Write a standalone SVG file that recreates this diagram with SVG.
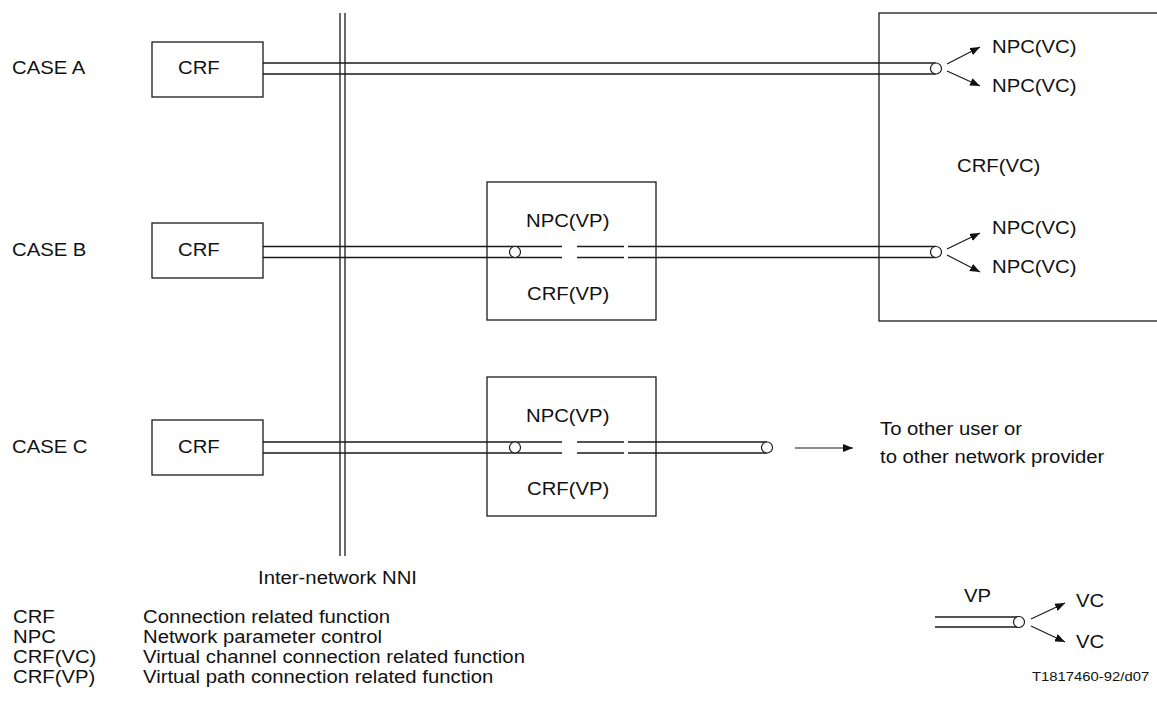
<svg xmlns="http://www.w3.org/2000/svg" width="1157" height="711" viewBox="0 0 1157 711">
<defs>
<style>
.t{font-family:"Liberation Sans",Arial,sans-serif;font-size:17.5px;fill:#111}
.s{font-family:"Liberation Sans",Arial,sans-serif;font-size:12.8px;fill:#111}
.ln{stroke:#1a1a1a;stroke-width:1.3;fill:none}
.bx{stroke:#1a1a1a;stroke-width:1.3;fill:none}
.cir{stroke:#1a1a1a;stroke-width:1.2;fill:#fff}
.ar{stroke:#1a1a1a;stroke-width:1.2;fill:none;marker-end:url(#ah)}
</style>
<marker id="ah" markerUnits="userSpaceOnUse" markerWidth="10" markerHeight="8" refX="10" refY="4" orient="auto">
<path d="M0,0 L10,4 L0,8 z" fill="#111"/>
</marker>
</defs>
<rect width="1157" height="711" fill="#fff"/>

<g id="nni">
<line class="ln" x1="340" y1="13" x2="340" y2="556"/>
<line class="ln" x1="345" y1="13" x2="345" y2="556"/>
<text class="t" transform="translate(258,584) scale(1.16,1)">Inter-network NNI</text>
</g>

<g id="labels">
<text class="t" transform="translate(12,74) scale(1.16,1)">CASE A</text>
<text class="t" transform="translate(12,256) scale(1.16,1)">CASE B</text>
<text class="t" transform="translate(12,453) scale(1.16,1)">CASE C</text>
</g>

<g id="crfA">
<rect class="bx" x="152" y="42" width="111" height="55"/>
<text class="t" transform="translate(178,74) scale(1.16,1)">CRF</text>
</g>
<g id="crfB">
<rect class="bx" x="152" y="223" width="111" height="55"/>
<text class="t" transform="translate(178,256) scale(1.16,1)">CRF</text>
</g>
<g id="crfC">
<rect class="bx" x="152" y="420" width="111" height="55"/>
<text class="t" transform="translate(178,453) scale(1.16,1)">CRF</text>
</g>

<g id="crfVC">
<rect class="bx" x="879" y="13" width="300" height="308"/>
<text class="t" transform="translate(957,172) scale(1.16,1)">CRF(VC)</text>
<text class="t" transform="translate(992,53) scale(1.16,1)">NPC(VC)</text>
<text class="t" transform="translate(992,92) scale(1.16,1)">NPC(VC)</text>
<text class="t" transform="translate(992,234) scale(1.16,1)">NPC(VC)</text>
<text class="t" transform="translate(992,273) scale(1.16,1)">NPC(VC)</text>
</g>

<g id="crfVPB">
<rect class="bx" x="487" y="182" width="169" height="138"/>
<text class="t" transform="translate(526,227) scale(1.16,1)">NPC(VP)</text>
<text class="t" transform="translate(527,300) scale(1.16,1)">CRF(VP)</text>
</g>
<g id="crfVPC">
<rect class="bx" x="487" y="377" width="169" height="139"/>
<text class="t" transform="translate(526,422) scale(1.16,1)">NPC(VP)</text>
<text class="t" transform="translate(527,495) scale(1.16,1)">CRF(VP)</text>
</g>

<g id="connectors">
<line class="ln" x1="263" y1="63" x2="936" y2="63"/>
<line class="ln" x1="263" y1="74" x2="936" y2="74"/>
<circle class="cir" cx="936" cy="68.5" r="5.5"/>
<line class="ar" x1="947" y1="64" x2="980" y2="47"/>
<line class="ar" x1="947" y1="71" x2="980" y2="86"/>
<path class="ln" d="M263,246.5 H562 M577,246.5 H624 M628,246.5 H936 M263,257.5 H562 M577,257.5 H624 M628,257.5 H936"/>
<circle class="cir" cx="515" cy="252" r="5.5"/>
<circle class="cir" cx="936" cy="252" r="5.5"/>
<line class="ar" x1="947" y1="249" x2="980" y2="233"/>
<line class="ar" x1="947" y1="255" x2="980" y2="272"/>
<path class="ln" d="M263,442 H562 M577,442 H624 M628,442 H767 M263,453 H562 M577,453 H624 M628,453 H767"/>
<circle class="cir" cx="515" cy="447.5" r="5.5"/>
<circle class="cir" cx="767" cy="447.5" r="5.5"/>
<line class="ar" x1="795" y1="448" x2="853" y2="448"/>
</g>

<g id="other">
<text class="t" transform="translate(880,435) scale(1.16,1)">To other user or</text>
<text class="t" transform="translate(880,463) scale(1.16,1)">to other network provider</text>
</g>

<g id="key">
<line class="ln" x1="935" y1="617" x2="1019" y2="617"/>
<line class="ln" x1="935" y1="627" x2="1019" y2="627"/>
<circle class="cir" cx="1019" cy="622" r="5.5"/>
<line class="ar" x1="1031" y1="619" x2="1065" y2="603"/>
<line class="ar" x1="1031" y1="626" x2="1065" y2="642"/>
<text class="t" transform="translate(964,602) scale(1.16,1)">VP</text>
<text class="t" transform="translate(1076,607) scale(1.16,1)">VC</text>
<text class="t" transform="translate(1076,648) scale(1.16,1)">VC</text>
<text class="s" transform="translate(1032,681) scale(1.16,1)">T1817460-92/d07</text>
</g>

<g id="legend">
<text class="t" transform="translate(13,623) scale(1.16,1)">CRF</text>
<text class="t" transform="translate(143,623) scale(1.16,1)">Connection related function</text>
<text class="t" transform="translate(13,643) scale(1.16,1)">NPC</text>
<text class="t" transform="translate(143,643) scale(1.16,1)">Network parameter control</text>
<text class="t" transform="translate(13,663) scale(1.16,1)">CRF(VC)</text>
<text class="t" transform="translate(143,663) scale(1.16,1)">Virtual channel connection related function</text>
<text class="t" transform="translate(13,683) scale(1.16,1)">CRF(VP)</text>
<text class="t" transform="translate(143,683) scale(1.16,1)">Virtual path connection related function</text>
</g>
</svg>
